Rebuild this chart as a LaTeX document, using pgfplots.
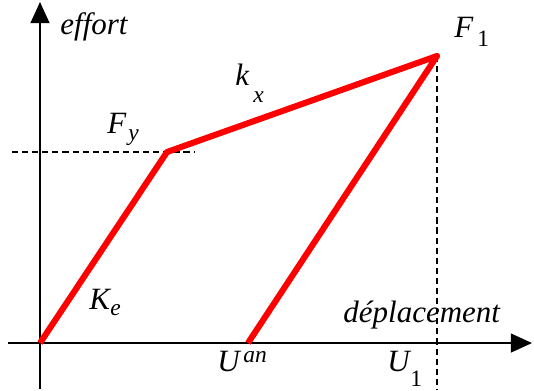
\documentclass[border=0pt]{standalone}
\usepackage{pgfplots}
\pgfplotsset{compat=1.18}
\usepackage{fontspec}
\setmainfont{Liberation Serif}
\usetikzlibrary{arrows.meta}
\tikzset{
    lbl/.style={font=\fontsize{13.2}{15}\selectfont\itshape, inner sep=0pt, anchor=base west},
    sml/.style={font=\fontsize{10}{12}\selectfont\itshape, inner sep=0pt, anchor=base west},
    smu/.style={font=\fontsize{10}{12}\selectfont, inner sep=0pt, anchor=base west},
}
\begin{document}
\begin{tikzpicture}
\begin{axis}[
    width=8cm, height=5.828cm,
    scale only axis,
    hide axis,
    xmin=0, xmax=534,
    ymin=0, ymax=389,
    clip=false,
]
% keep the full frame in the bounding box
\path (axis cs:0,0) rectangle (axis cs:534,389);
% axes
\draw[line width=0.85pt, -{Triangle[length=9pt,width=8pt]}] (axis cs:8,46) -- (axis cs:532,46);
\draw[line width=0.85pt, -{Triangle[length=9pt,width=8pt]}] (axis cs:40,0) -- (axis cs:40,387);
% guide lines
\draw[line width=0.55pt, dash pattern=on 2.6pt off 1.7pt] (axis cs:12,237) -- (axis cs:195,237);
\draw[line width=0.55pt, dash pattern=on 2.6pt off 1.7pt] (axis cs:437,333) -- (axis cs:437,0);
% loading / unloading path
\addplot[red, line width=2.6pt, line join=round] coordinates {
    (40,46) (167,237) (437,333) (248,46)
};
% labels
\node[lbl] at (axis cs:60,354) {effort};
\node[lbl] at (axis cs:454,351) {F};
\node[smu] at (axis cs:477,342) {1};
\node[lbl] at (axis cs:235,304) {k};
\node[sml] at (axis cs:253,287) {x};
\node[lbl] at (axis cs:107,256) {F};
\node[sml] at (axis cs:128,249) {y};
\node[lbl] at (axis cs:89,80) {K};
\node[sml] at (axis cs:110,74) {e};
\node[lbl] at (axis cs:343,67) {déplacement};
\node[lbl] at (axis cs:217,18) {U};
\node[sml] at (axis cs:243,27) {an};
\node[lbl] at (axis cs:387,18) {U};
\node[smu] at (axis cs:410,3) {1};
\end{axis}
\end{tikzpicture}
\end{document}
